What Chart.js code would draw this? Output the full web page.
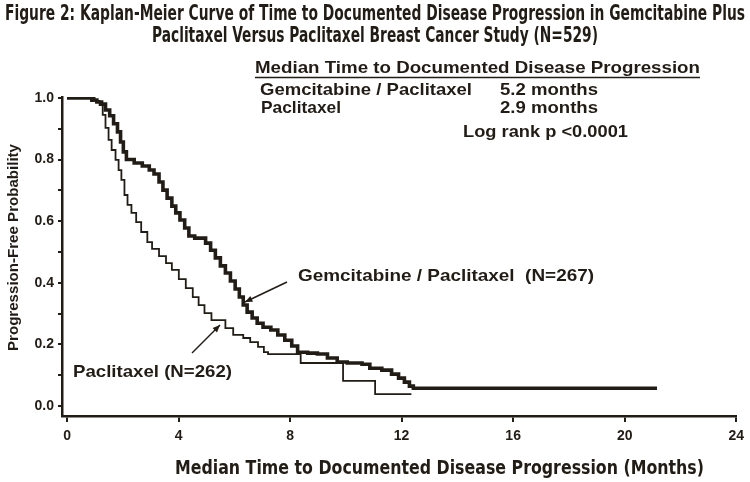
<!DOCTYPE html>
<html>
<head>
<meta charset="utf-8">
<script src="https://cdn.jsdelivr.net/npm/chart.js@4/dist/chart.umd.min.js"></script>
<style>
html,body{margin:0;padding:0;background:#fff;}
#c{display:block;}
</style>
</head>
<body>
<canvas id="c" width="750" height="482"></canvas>
<script>
// ---- Data (months, progression-free probability) ----
const gemMonths = [0, 0.82, 0.89, 1.07, 1.24, 1.38, 1.53, 1.67, 1.81, 1.92, 2.02, 2.13, 2.41, 2.70, 2.95, 3.12, 3.30, 3.44, 3.59, 3.76, 3.90, 4.05, 4.22, 4.37, 4.58, 4.97, 5.15, 5.32, 5.50, 5.68, 5.86, 6.03, 6.18, 6.32, 6.46, 6.64, 6.82, 7.03, 7.31, 7.56, 7.81, 8.06, 8.27, 8.63, 8.98, 9.34, 9.69, 10.05, 10.58, 10.86, 11.29, 11.64, 11.89, 12.10, 12.28, 12.42, 21.16];
const gemProb   = [1.0, 1.0, 0.993, 0.987, 0.98, 0.961, 0.942, 0.916, 0.89, 0.857, 0.825, 0.80, 0.789, 0.779, 0.766, 0.753, 0.727, 0.701, 0.675, 0.649, 0.627, 0.604, 0.578, 0.552, 0.545, 0.529, 0.506, 0.481, 0.455, 0.432, 0.406, 0.38, 0.354, 0.328, 0.305, 0.286, 0.269, 0.256, 0.247, 0.231, 0.214, 0.195, 0.175, 0.172, 0.169, 0.156, 0.143, 0.14, 0.136, 0.123, 0.117, 0.104, 0.091, 0.078, 0.065, 0.058, 0.058];

const pacMonths = [0, 0.82, 0.99, 1.17, 1.28, 1.38, 1.49, 1.60, 1.74, 1.85, 1.95, 2.06, 2.17, 2.31, 2.48, 2.66, 2.88, 3.05, 3.30, 3.55, 3.76, 4.01, 4.26, 4.51, 4.72, 4.93, 5.18, 5.68, 5.96, 6.32, 6.57, 6.85, 7.06, 7.21, 8.38, 9.90, 11.05, 12.35];
const pacProb   = [1.0, 1.0, 0.99, 0.977, 0.945, 0.903, 0.864, 0.831, 0.799, 0.766, 0.734, 0.685, 0.653, 0.627, 0.597, 0.565, 0.532, 0.51, 0.487, 0.464, 0.442, 0.412, 0.383, 0.354, 0.328, 0.302, 0.279, 0.253, 0.231, 0.221, 0.208, 0.192, 0.175, 0.169, 0.140, 0.082, 0.039, 0.039];

const xTickValues = [0, 4, 8, 12, 16, 20, 24];
const yTickValues = [0, 0.1, 0.2, 0.3, 0.4, 0.5, 0.6, 0.7, 0.8, 0.9, 1.0];
const yLabelValues = [0, 0.2, 0.4, 0.6, 0.8, 1.0];

const titleLines = ['Figure 2: Kaplan-Meier Curve of Time to Documented Disease Progression in Gemcitabine Plus',
                    'Paclitaxel Versus Paclitaxel Breast Cancer Study (N=529)'];
const xAxisTitle = 'Median Time to Documented Disease Progression (Months)';
const yAxisTitle = 'Progression-Free Probability';
const medianHeader = 'Median Time to Documented Disease Progression';
const medianRows = [['Gemcitabine / Paclitaxel', '5.2 months'], ['Paclitaxel', '2.9 months']];
const logRank = 'Log rank p <0.0001';
const gemLabel = 'Gemcitabine / Paclitaxel  (N=267)';
const pacLabel = 'Paclitaxel (N=262)';

const INK = '#221c16';
const COND = '"Liberation Sans Narrow", "DejaVu Sans Condensed", sans-serif';
const SANS = '"Liberation Sans", Arial, sans-serif';
const toPts = (xs, ys) => xs.map((x, i) => ({x: x, y: ys[i]}));

// draw text stretched horizontally to a target width (left x, baseline y)
function fitText(ctx, text, x, y, w) {
  const m = ctx.measureText(text).width;
  ctx.save();
  ctx.translate(x, y);
  ctx.scale(w / m, 1);
  ctx.textAlign = 'left';
  ctx.fillText(text, 0, 0);
  ctx.restore();
}

const textPlugin = {
  id: 'texts',
  afterDraw(chart) {
    const ctx = chart.ctx;
    ctx.save();
    ctx.fillStyle = INK;
    ctx.strokeStyle = INK;
    ctx.textBaseline = 'alphabetic';
    // Title
    ctx.font = 'bold 21px ' + COND;
    fitText(ctx, titleLines[0], 5, 20, 740);
    fitText(ctx, titleLines[1], 152, 42, 446);
    // Median box
    ctx.font = 'bold 17px ' + SANS;
    fitText(ctx, medianHeader, 255, 73, 445);
    ctx.lineWidth = 1.5;
    ctx.beginPath(); ctx.moveTo(255, 77.5); ctx.lineTo(700, 77.5); ctx.stroke();
    fitText(ctx, medianRows[0][0], 260, 95, 212);
    fitText(ctx, medianRows[0][1], 500, 95, 98);
    fitText(ctx, medianRows[1][0], 261, 113, 80);
    fitText(ctx, medianRows[1][1], 500, 113, 98);
    fitText(ctx, logRank, 463, 137, 165);
    // Curve labels
    fitText(ctx, gemLabel, 298, 281, 296);
    fitText(ctx, pacLabel, 73, 377, 159);
    // Arrows
    const arrow = (x1, y1, x2, y2) => {
      ctx.lineWidth = 1.5;
      ctx.beginPath(); ctx.moveTo(x1, y1); ctx.lineTo(x2, y2); ctx.stroke();
      const a = Math.atan2(y2 - y1, x2 - x1), L = 8, w = 0.4;
      ctx.beginPath();
      ctx.moveTo(x2, y2);
      ctx.lineTo(x2 - L * Math.cos(a - w), y2 - L * Math.sin(a - w));
      ctx.lineTo(x2 - L * Math.cos(a + w), y2 - L * Math.sin(a + w));
      ctx.closePath(); ctx.fill();
    };
    arrow(287, 282, 245, 302);
    arrow(192, 353, 220, 325);
    // Axis titles
    ctx.font = 'bold 19px ' + COND;
    fitText(ctx, xAxisTitle, 175, 474, 529);
    ctx.save();
    ctx.translate(18, 351);
    ctx.rotate(-Math.PI / 2);
    ctx.font = 'bold 14px ' + SANS;
    fitText(ctx, yAxisTitle, 0, 0, 207);
    ctx.restore();
    ctx.restore();
  }
};

new Chart(document.getElementById('c'), {
  type: 'line',
  data: {
    datasets: [
      { label: 'Paclitaxel', data: toPts(pacMonths, pacProb), stepped: true,
        borderColor: INK, borderWidth: 1.8, pointRadius: 0, fill: false },
      { label: 'Gemcitabine / Paclitaxel', data: toPts(gemMonths, gemProb), stepped: true,
        borderColor: INK, borderWidth: 3.6, pointRadius: 0, fill: false }
    ]
  },
  options: {
    responsive: false,
    animation: false,
    layout: { padding: { top: 97, left: 0, right: 7, bottom: 0 } },
    plugins: { legend: { display: false }, tooltip: { enabled: false }, title: { display: false } },
    scales: {
      x: {
        type: 'linear', min: -0.18, max: 24,
        afterBuildTicks: s => { s.ticks = xTickValues.map(v => ({value: v})); },
        afterFit: s => { s.height = 66; },
        grid: { drawOnChartArea: false, drawTicks: true, tickLength: 6, color: INK, lineWidth: 2 },
        border: { display: true, color: INK, width: 2.5 },
        ticks: { color: INK, padding: 6, maxRotation: 0, autoSkip: false,
                 font: { family: SANS, size: 14, weight: 'bold' },
                 callback: v => String(v) }
      },
      y: {
        type: 'linear', min: -0.032, max: 1.003,
        afterBuildTicks: s => { s.ticks = yTickValues.map(v => ({value: v})); },
        afterFit: s => { s.width = 62; },
        grid: { drawOnChartArea: false, drawTicks: true, tickLength: 4, color: INK, lineWidth: 2 },
        border: { display: true, color: INK, width: 2.5 },
        ticks: { color: INK, padding: 4, autoSkip: false,
                 font: { family: SANS, size: 14, weight: 'bold' },
                 callback: v => yLabelValues.some(l => Math.abs(l - v) < 1e-9) ? v.toFixed(1) : '' }
      }
    }
  },
  plugins: [textPlugin]
});
</script>
</body>
</html>
